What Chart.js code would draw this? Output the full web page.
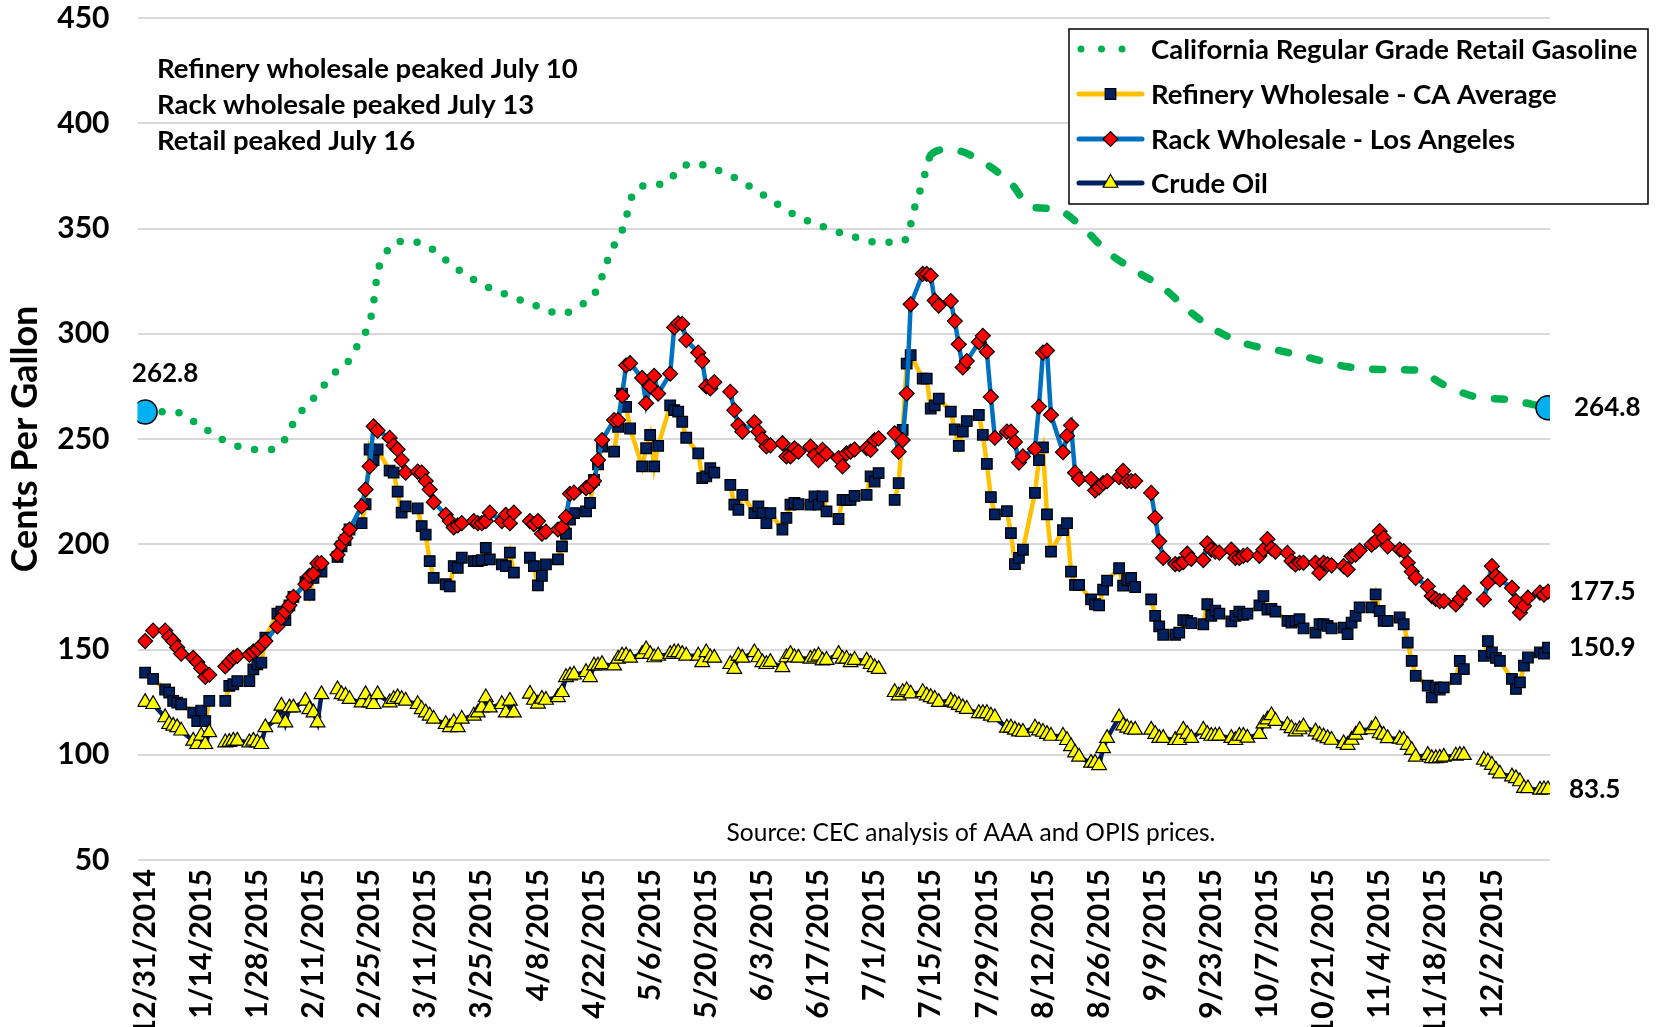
<!DOCTYPE html>
<html>
<head>
<meta charset="utf-8">
<script src="https://cdn.jsdelivr.net/npm/chart.js@4.4.1/dist/chart.umd.min.js"></script>
<style>
  html, body { margin: 0; padding: 0; background: #fff; }
  #chart { display: block; }
</style>
</head>
<body>
<canvas id="chart" width="1659" height="1027"></canvas>
<script>
const DAY = 86400000;
const START = Date.UTC(2014, 11, 31);        // 12/31/2014 = day 0
const FIRST_MONDAY = Date.UTC(2014, 11, 29); // weekday rows below start on this Monday

const tickLabels = [
  '12/31/2014', '1/14/2015', '1/28/2015', '2/11/2015', '2/25/2015', '3/11/2015',
  '3/25/2015', '4/8/2015', '4/22/2015', '5/6/2015', '5/20/2015', '6/3/2015',
  '6/17/2015', '7/1/2015', '7/15/2015', '7/29/2015', '8/12/2015', '8/26/2015',
  '9/9/2015', '9/23/2015', '10/7/2015', '10/21/2015', '11/4/2015', '11/18/2015',
  '12/2/2015'
];

// retail, days after 12/31/2014
const retailDays = [
  0, 7, 14, 21, 26, 30, 34, 36, 38, 41, 44, 47, 50, 52, 54, 56, 57, 58, 60, 62,
  66, 71, 77, 84, 91, 98, 104, 108, 111, 113, 115, 117, 119, 120, 121, 123, 130, 133, 137, 141,
  148, 155, 162, 169, 176, 183, 188, 190, 191, 192, 193, 194, 195, 196, 200, 203, 209, 216, 221, 227,
  234, 240, 247, 254, 261, 267, 275, 283, 291, 300, 308, 317, 324, 332, 340, 350
];
const retail = [
  262.8, 263, 256, 248, 245.3, 244.9, 247.5, 254, 261, 267, 274, 281, 285, 291, 298, 305, 315, 329, 338, 343,
  344, 341, 332, 323.5, 318, 313, 309.4, 313, 316.5, 322, 333, 342, 349, 355, 363, 369.5, 371.5, 377.8, 381, 379,
  373.2, 365, 356.5, 351, 346.5, 343.5, 343.6, 345.5, 352, 360, 366, 372, 379, 385, 387.5, 387, 381.6, 371.5, 360.3, 359.3,
  350.3, 339, 330, 321.8, 310, 301.8, 295, 292, 288.3, 284.3, 283, 282.7, 275.8, 270, 268.7, 264.8
];

// one row per week, Mon..Fri (null = no price / holiday)
const refinery = [
  null, null, 139, null, 136,
  131, 129.5, 125.6, 124.8, 124,
  120, 116, 121, 116, 125.6,
  null, 125.6, 132.7, 133.5, 135,
  135, 140.6, 143, 143.8, 155.6,
  167, 168, 164, 171, 175,
  182, 176, 184, 188, 187,
  null, 194, 199, 202, 207,
  210, 219, 245, 240, 245,
  235, 234, 225, 215, 218,
  217, 208.6, 204.6, 192, 184,
  181, 180, 189.6, 188.8, 193.6,
  192, 192, 192.5, 198.3, 192.8,
  190.4, 189.6, 196, 186.5, null,
  193.6, 189.6, 180.5, 185, 190.4,
  192.8, 199, 205, 211.7, 214.8,
  215.6, 219.6, 230.6, 238, 246.4,
  244, 255.8, 271.6, 265.3, 255,
  237, 245.6, 251.9, 237, 246.7,
  266, 263.7, 263, 258.2, 250.6,
  243.2, 231.4, 232.2, 236.1, 234,
  null, 228.2, 218.8, 216.4, 223.5,
  214.8, 218, 214.8, 210.1, 214.8,
  207, 212.5, 218.8, 219.6, 219,
  218.8, 222.7, 218.8, 222.7, 215.6,
  212, 221.1, 221, 221.1, 223,
  223.5, 232.2, 229.8, 233.8, null,
  221.1, 229, 254.3, 285.8, 289.8,
  278.7, 278.7, 264.5, 266, 269.2,
  263, 254.5, 246.7, 253.5, 258.5,
  261.4, 252, 238.2, 222.4, 214.2,
  215.7, 205.3, 190.6, 193.5, 197.4,
  224.4, 240, 246, 214.2, 196.5,
  206.7, 210, 187, 180.7, 180.7,
  173.8, 171.5, 171, 178.4, 182.7,
  188.6, 180.3, 183, 184, 179.7,
  null, 173.8, 166, 161, 157,
  157, 158, 164, 163.6, 162.5,
  162, 171.5, 166, 168.5, 167,
  163.4, 166, 168, 166.5, 167,
  171, 175.4, 169, 169.3, 168,
  163.6, 162.8, 163.6, 164.4, 160,
  158, 162, 162, 161.2, 160,
  160.4, 157.3, 162.8, 166, 170,
  170, 176.2, 168.3, 163.6, 163.6,
  165.2, 162, 153.3, 144.6, 137.5,
  132.8, 127.3, 132, 131, 132,
  136, 144.6, 140.7, null, null,
  147, 154, 148.6, 146, 144.6,
  136, 131.3, 134.4, 142.3, 146.2,
  148.6, 148, 150.9
];

const rack = [
  null, null, 154, null, 159,
  159, 156, 154, 151, 148,
  146, 144, 141, 137, 138,
  null, 142, 144, 146, 147,
  147.5, 149, 150, 152, 154,
  161, 165, 168, 171, 175,
  181, 185, 186, 191, 191,
  null, 195, 200, 203, 207,
  218, 226, 237, 256, 254,
  250.5, 247, 245, 240, 234,
  234.5, 234, 230, 226, 220,
  214, 211, 208, 209, 210,
  211, 210, 210, 211, 215,
  211, 214, 210, 215, null,
  211, 209.5, 211, 205, 206,
  207, 208, 213, 224, 224.5,
  226.7, 227.5, 230, 240, 249.5,
  259, 259, 270.6, 285, 286,
  279, 267, 275, 280, 271.6,
  281, 303, 305, 304.7, 297,
  291, 287, 275, 274, 277,
  null, 272.4, 263.7, 256.6, 253.5,
  258, 253.5, 250, 246.5, 247,
  248, 241.7, 241.7, 245.6, 244,
  246.4, 242.4, 240, 244.8, 243,
  240.9, 237, 243.2, 244, 245,
  245.6, 244.8, 249.5, 250.3, null,
  252.7, 244, 249.5, 271.6, 314,
  328.4, 328.4, 327.6, 315.8, 313.4,
  315.5, 306, 295, 284, 287,
  296, 299, 291.5, 270, 250.6,
  253.5, 253.5, 248.6, 238.8, 241.7,
  245.3, 265.4, 291, 292, 261.4,
  243.7, 251.6, 256.5, 234, 231,
  231, 225.6, 227, 229, 230,
  231.9, 234.9, 230, 230, 230,
  null, 224.4, 212.6, 201.4, 193.5,
  190.6, 190.6, 191.5, 195.5, 193,
  192.5, 200.4, 197.4, 196.5, 196,
  197.4, 193.5, 193.5, 194.5, 195,
  194.5, 197.4, 202.4, 198, 196.5,
  195.9, 192, 190.4, 191.2, 191.2,
  191.2, 186.4, 191.2, 190.4, 190,
  189.6, 188, 194.3, 195, 197,
  199.8, 201.4, 206.2, 203, 199,
  197.5, 196.7, 191.2, 187, 184,
  180, 175.4, 174, 173, 173,
  171.4, 174, 177, null, null,
  173.8, 181.7, 189.6, 185, 183.3,
  179.3, 173, 167.5, 170.7, 174.6,
  177, 176, 177.5
];

const crude = [
  null, null, 125, null, 124,
  117.7, 114.5, 113.7, 113, 111.4,
  106.6, 105, 109, 105, 110.6,
  null, 105.8, 106, 106.6, 106.6,
  105.8, 106.6, 105.8, 105, 113,
  117, 123.2, 115.3, 122.4, 122.4,
  125.6, 121.6, 120, 115.3, 128.7,
  null, 131, 128.7, 128, 126.4,
  124.8, 128.7, 124.8, 124, 128.7,
  124.8, 126.4, 127.2, 126.4, 125.6,
  124, 121.6, 120, 118.5, 117,
  114.5, 113, 115.3, 113, 117,
  118.5, 120, 122.4, 127.2, 122.4,
  124, 120, 125.6, 120, null,
  128.9, 126, 124.2, 126.5, 126,
  127.3, 129.7, 136.8, 137.6, 138,
  139.2, 136.8, 142.3, 142.3, 143,
  142.3, 145.5, 147, 147, 146,
  147.8, 150, 147.8, 146.2, 147,
  147.8, 148.6, 148.6, 147.8, 147,
  147, 143.9, 148.6, 146.2, 146,
  null, 143, 140.7, 147, 146,
  148.6, 146.2, 143.9, 143, 144,
  141.5, 146.2, 147.8, 146.2, 146,
  145.5, 146.2, 147, 144.7, 145,
  147.8, 145.5, 145.5, 143.9, 145,
  144.7, 143, 141.5, 140.7, null,
  129.7, 128.1, 129.7, 130.5, 129,
  129.7, 128.1, 127.3, 126.5, 125,
  125.6, 124.6, 123.6, 122.5, 121.7,
  119.7, 119.7, 119.7, 118.5, 117.7,
  112.8, 112.8, 111.8, 111, 110.8,
  112.8, 111.5, 110.8, 109.8, 108.9,
  108.9, 106.9, 104, 101, 99,
  96.1, 96.1, 95, 103, 107.9,
  117.7, 113.8, 112.8, 112, 111.8,
  null, 111.8, 109.8, 107.9, 107.9,
  106.9, 106.9, 111.8, 109.8, 107.9,
  111.8, 109.8, 108.9, 108.9, 109,
  107.9, 106.9, 108.9, 108.9, 108,
  109.8, 114.8, 116.7, 118.7, 116,
  114, 112.5, 111, 112, 113.3,
  111, 109.4, 108.6, 107.8, 107,
  105.4, 104.6, 107, 109.4, 111.7,
  112, 114, 110.1, 109.4, 107.8,
  107.5, 107, 104.6, 102.2, 99,
  99.8, 98.3, 98.3, 98.5, 99,
  99.5, 99.8, 99.8, null, null,
  97.5, 96.7, 95.1, 92.8, 91,
  89.6, 88.8, 87.3, 84.1, 84,
  83.3, 83.5, 83.5
];

const notes = [
  'Refinery wholesale peaked July 10',
  'Rack wholesale peaked July 13',
  'Retail peaked July 16'
];
const sourceText = 'Source: CEC analysis of AAA and OPIS prices.';

const FONT = 'Lato';

function dayOf(label) {
  const [m, d, y] = label.split('/').map(Number);
  return (Date.UTC(y, m - 1, d) - START) / DAY;
}
const tickDays = tickLabels.map(dayOf);

const mondayOffset = (FIRST_MONDAY - START) / DAY;
const weekdayPoints = arr => arr.map((v, i) => ({
  x: mondayOffset + Math.floor(i / 5) * 7 + (i % 5),
  y: v
}));

const retailLast = retail.length - 1;

const series = [
  {
    label: 'California Regular Grade Retail Gasoline',
    data: retailDays.map((d, i) => ({ x: d, y: retail[i] })),
    borderColor: '#00B050',
    borderWidth: 7.5,
    borderCapStyle: 'round',
    borderDash: [0, 17],
    cubicInterpolationMode: 'monotone',
    segment: {
      borderDash: c => (c.p0.parsed.x >= 196 ? [10, 22] : [0, 17])
    },
    pointStyle: 'circle',
    pointRadius: c => (c.dataIndex === 0 || c.dataIndex === retailLast ? 12 : 0),
    pointBackgroundColor: '#00B0F0',
    pointBorderColor: '#000',
    pointBorderWidth: 1.5,
    order: 4
  },
  {
    label: 'Refinery Wholesale - CA Average',
    data: weekdayPoints(refinery),
    borderColor: '#FFC000',
    borderWidth: 4.5,
    pointStyle: 'rect',
    pointRadius: 7.5,
    pointBackgroundColor: '#002060',
    pointBorderColor: '#000',
    pointBorderWidth: 1.2,
    order: 3
  },
  {
    label: 'Rack Wholesale - Los Angeles',
    data: weekdayPoints(rack),
    borderColor: '#0070C0',
    borderWidth: 4.5,
    pointStyle: 'rectRot',
    pointRadius: 7.5,
    pointBackgroundColor: '#FF0000',
    pointBorderColor: '#000',
    pointBorderWidth: 1.2,
    order: 2
  },
  {
    label: 'Crude Oil',
    data: weekdayPoints(crude),
    borderColor: '#002060',
    borderWidth: 4.5,
    pointStyle: 'triangle',
    pointRadius: 8.5,
    pointBackgroundColor: '#FFFF00',
    pointBorderColor: '#000',
    pointBorderWidth: 1.2,
    order: 1
  }
];

function marker(ctx, style, x, y, r, fill) {
  ctx.save();
  ctx.fillStyle = fill;
  ctx.strokeStyle = '#000';
  ctx.lineWidth = 1.2;
  ctx.beginPath();
  if (style === 'rect') {
    const s = r * Math.SQRT1_2;
    ctx.rect(x - s, y - s, 2 * s, 2 * s);
  } else if (style === 'rectRot') {
    ctx.moveTo(x - r, y); ctx.lineTo(x, y - r); ctx.lineTo(x + r, y); ctx.lineTo(x, y + r);
    ctx.closePath();
  } else {
    ctx.moveTo(x, y - r);
    ctx.lineTo(x + r * Math.sin(2 * Math.PI / 3), y - r * Math.cos(2 * Math.PI / 3));
    ctx.lineTo(x + r * Math.sin(4 * Math.PI / 3), y - r * Math.cos(4 * Math.PI / 3));
    ctx.closePath();
  }
  ctx.fill();
  ctx.stroke();
  ctx.restore();
}

const extras = {
  id: 'extras',
  afterDraw(chart) {
    const c = chart.ctx;
    c.save();
    c.fillStyle = '#000';
    c.textBaseline = 'middle';

    // notes at top left
    c.font = 'bold 27.5px ' + FONT;
    c.textAlign = 'left';
    notes.forEach((t, i) => c.fillText(t, 157, 69 + i * 36));

    // source line
    c.font = '24.5px ' + FONT;
    c.textAlign = 'center';
    c.fillText(sourceText, 971, 833);

    // end-point value labels
    c.font = 'bold 26px ' + FONT;
    const retailPts = chart.getDatasetMeta(0).data;
    const first = retailPts[0];
    c.textAlign = 'center';
    c.fillText(retail[0].toFixed(1), first.x + 20, first.y - 38);
    c.textAlign = 'left';
    const lastR = retailPts[retailLast];
    c.fillText(retail[retailLast].toFixed(1), lastR.x + 26, lastR.y);
    [[2, rack], [1, refinery], [3, crude]].forEach(([idx, arr]) => {
      const pts = chart.getDatasetMeta(idx).data;
      const p = pts[pts.length - 1];
      c.fillText(arr[arr.length - 1].toFixed(1), p.x + 21, p.y);
    });

    // legend box
    const bx = 1069, by = 29, bw = 579, bh = 175;
    c.fillStyle = '#fff';
    c.fillRect(bx, by, bw, bh);
    c.strokeStyle = '#000';
    c.lineWidth = 1.5;
    c.strokeRect(bx, by, bw, bh);

    const rows = [49, 94, 139, 183];
    const lx0 = 1079, lx1 = 1142, lxm = (lx0 + lx1) / 2;
    // retail sample: dotted
    c.save();
    c.strokeStyle = series[0].borderColor;
    c.lineWidth = 7;
    c.lineCap = 'round';
    c.setLineDash([0, 20.5]);
    c.beginPath(); c.moveTo(lx0 + 2, rows[0]); c.lineTo(lx1, rows[0]); c.stroke();
    c.restore();
    [1, 2, 3].forEach(i => {
      const s = series[i];
      c.save();
      c.strokeStyle = s.borderColor;
      c.lineWidth = 5;
      c.lineCap = 'round';
      c.beginPath(); c.moveTo(lx0, rows[i]); c.lineTo(lx1, rows[i]); c.stroke();
      c.restore();
      marker(c, s.pointStyle, lxm, rows[i], s.pointRadius, s.pointBackgroundColor);
    });
    c.fillStyle = '#000';
    c.font = 'bold 27.5px ' + FONT;
    c.textAlign = 'left';
    series.forEach((s, i) => c.fillText(s.label, 1151, rows[i] + 1));
    c.restore();
  }
};

const ctx = document.getElementById('chart').getContext('2d');
Chart.defaults.font.family = FONT;
Chart.defaults.color = '#000';

new Chart(ctx, {
  type: 'line',
  data: { datasets: series },
  plugins: [extras],
  options: {
    responsive: false,
    animation: false,
    devicePixelRatio: 1,
    events: [],
    layout: { padding: { top: 18, right: 109, left: 0, bottom: 0 } },
    plugins: {
      legend: { display: false },
      tooltip: { enabled: false }
    },
    scales: {
      x: {
        type: 'linear',
        min: -1.9,
        max: 350.5,
        grid: { display: false, drawTicks: false },
        border: { display: false },
        afterBuildTicks: s => { s.ticks = tickDays.map(v => ({ value: v })); },
        afterFit: s => { s.height = 167; },
        ticks: {
          autoSkip: false,
          minRotation: 90,
          maxRotation: 90,
          padding: 9,
          color: '#000',
          font: { size: 30, weight: 'bold' },
          callback: (v, i) => tickLabels[i]
        }
      },
      y: {
        min: 50,
        max: 450,
        afterFit: s => { s.width = 137.5; s.paddingTop = 0; s.paddingBottom = 0; },
        grid: { color: '#D9D9D9', lineWidth: 2, drawTicks: false },
        border: { display: false },
        ticks: {
          stepSize: 50,
          padding: 28,
          color: '#000',
          font: { size: 30, weight: 'bold' }
        },
        title: {
          display: true,
          text: 'Cents Per Gallon',
          color: '#000',
          font: { size: 36, weight: 'bold' },
          padding: { top: 4, bottom: 0 }
        }
      }
    }
  }
});
</script>
</body>
</html>
